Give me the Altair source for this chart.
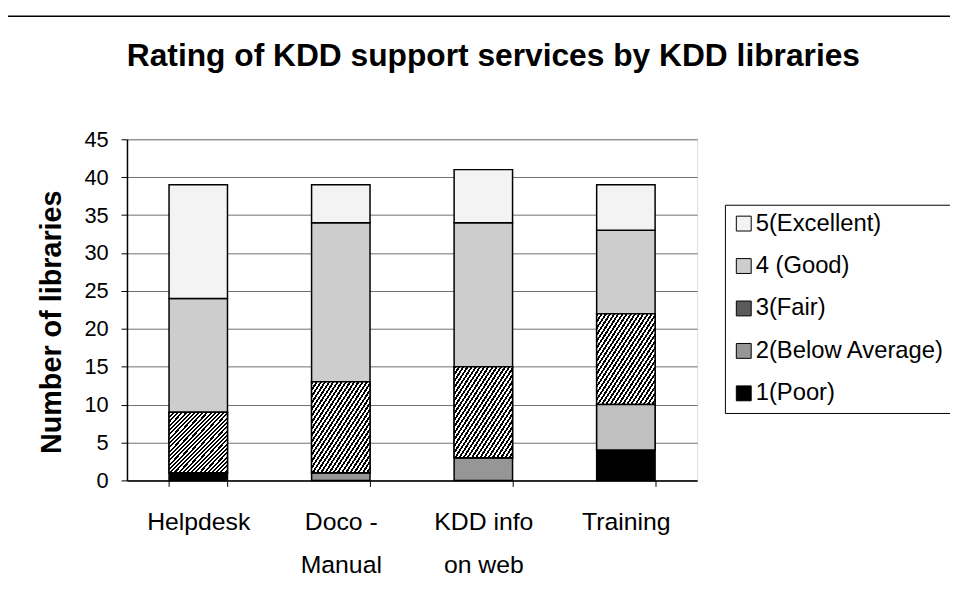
import altair as alt
import pandas as pd

# ---- data ----
services = ["Helpdesk", "Doco - Manual", "KDD info on web", "Training"]
ratings = ["1(Poor)", "2(Below Average)", "3(Fair)", "4 (Good)", "5(Excellent)"]
poor = [1, 0, 0, 4]
below_average = [0, 1, 3, 6]
fair = [8, 12, 12, 12]
good = [15, 21, 19, 11]
excellent = [15, 5, 7, 6]
y_ticks = [0, 5, 10, 15, 20, 25, 30, 35, 40, 45]

series = [poor, below_average, fair, good, excellent]
rows = []
for r_i, (rating, vals) in enumerate(zip(ratings, series)):
    for s, v in zip(services, vals):
        rows.append({"service": s, "rating": rating, "rank": r_i + 1, "count": v})
df = pd.DataFrame(rows)

# ---- styles ----
FONT = "Liberation Sans"
legend_order = ratings[::-1]
fills = {"1(Poor)": "#000000", "2(Below Average)": "#969696", "3(Fair)": "#5a5a5a",
         "4 (Good)": "#cdcdcd", "5(Excellent)": "#f3f3f3"}
highlight = {"service": "Training", "rating": "2(Below Average)", "fill": "#c0c0c0"}

# diagonal hatch for "3(Fair)" as a striped linear gradient
n_periods = 28
stops = []
for k in range(n_periods):
    a = k / n_periods
    b = (k + 0.5) / n_periods
    c = (k + 1) / n_periods
    stops += [alt.GradientStop(offset=a, color="#000000"),
              alt.GradientStop(offset=b, color="#000000"),
              alt.GradientStop(offset=b, color="#ffffff"),
              alt.GradientStop(offset=c, color="#ffffff")]
hatch = alt.Gradient(gradient="linear", x1=0, y1=0, x2=1, y2=1, stops=stops)

W, H = 575, 344

label_expr = ("datum.label == 'Doco - Manual' ? ['Doco -', 'Manual'] : "
              "datum.label == 'KDD info on web' ? ['KDD info', 'on web'] : datum.label")

x_enc = alt.X("service:N", sort=services,
              scale=alt.Scale(paddingInner=0.59, paddingOuter=0.295),
              axis=alt.Axis(title=None, labelAngle=0, labelFontSize=25, labelFont=FONT,
                            labelColor="#000000", labelPadding=24, labelBaseline="top",
                            labelLineHeight=43, labelExpr=label_expr,
                            tickBand="extent", tickSize=6, tickColor="#000000",
                            domainColor="#000000", domainWidth=1.5, grid=False))
y_enc = alt.Y("y1:Q",
              scale=alt.Scale(domain=[0, 45], nice=False),
              axis=alt.Axis(values=y_ticks, title="Number of libraries",
                            labelOverlap=False,
                            titleFont=FONT, titleFontSize=29, titleFontWeight="bold",
                            titleColor="#000000", titleAngle=270, titleBaseline="middle",
                            titleAlign="center", titleX=-76, titleY=184,
                            labelFont=FONT, labelFontSize=22, labelColor="#000000",
                            labelPadding=13, tickSize=6, tickColor="#000000",
                            domainColor="#000000", domainWidth=1.5,
                            gridColor="#6e6e6e", gridWidth=1))

base = (alt.Chart(df)
        .transform_filter("datum.count > 0")
        .transform_stack(stack="count", groupby=["service"], as_=["y0", "y1"],
                         sort=[alt.SortField("rank", order="ascending")]))

bars = base.mark_bar(stroke="#000000", strokeWidth=1.5).encode(
    x=x_enc, y=y_enc, y2="y0:Q",
    color=alt.Color("rating:N",
                    scale=alt.Scale(domain=legend_order, range=[fills[r] for r in legend_order]),
                    legend=alt.Legend(title=None, orient="none", legendX=603, legendY=66,
                                      symbolType="square", symbolSize=225,
                                      symbolStrokeColor="#000000", symbolStrokeWidth=1,
                                      symbolOpacity=1,
                                      labelFont=FONT, labelFontSize=24, labelColor="#000000",
                                      labelOffset=0, rowPadding=18.8, padding=7,
                                      labelLimit=400,
                                      strokeColor="#000000", fillColor="#ffffff")),
    order=alt.Order("rank:Q"),
)

hatch_layer = (base.transform_filter(alt.datum.rating == "3(Fair)")
               .mark_bar(fill=hatch, stroke="#000000", strokeWidth=1.5)
               .encode(x=x_enc, y=y_enc, y2="y0:Q"))

hl_layer = (base.transform_filter((alt.datum.rating == highlight["rating"]) &
                                  (alt.datum.service == highlight["service"]))
            .mark_bar(fill=highlight["fill"], stroke="#000000", strokeWidth=1.5)
            .encode(x=x_enc, y=y_enc, y2="y0:Q"))

# outer chart-area border (decoration, extends past the picture like the reference)
frame = alt.Chart(pd.DataFrame({"a": [0]})).mark_rect(
    fill=None, stroke="#000000", strokeWidth=1.5).encode(
    x=alt.value(-123), x2=alt.value(900), y=alt.value(-124), y2=alt.value(500))

chart = (alt.layer(frame, bars, hatch_layer, hl_layer)
         .properties(width=W, height=H,
                     title=alt.TitleParams("Rating of KDD support services by KDD libraries",
                                           font=FONT, fontSize=32, fontWeight="bold",
                                           color="#000000", anchor="middle", frame="group",
                                           dx=82, dy=32, offset=-51, baseline="alphabetic"),
                     autosize=alt.AutoSizeParams(type="none"),
                     padding={"left": 120, "top": 130, "right": 255, "bottom": 96})
         .configure_view(stroke="#808080", strokeWidth=1)
         .configure(background="#ffffff"))

chart.save("out.html", embed_options={"renderer": "svg", "actions": False})
